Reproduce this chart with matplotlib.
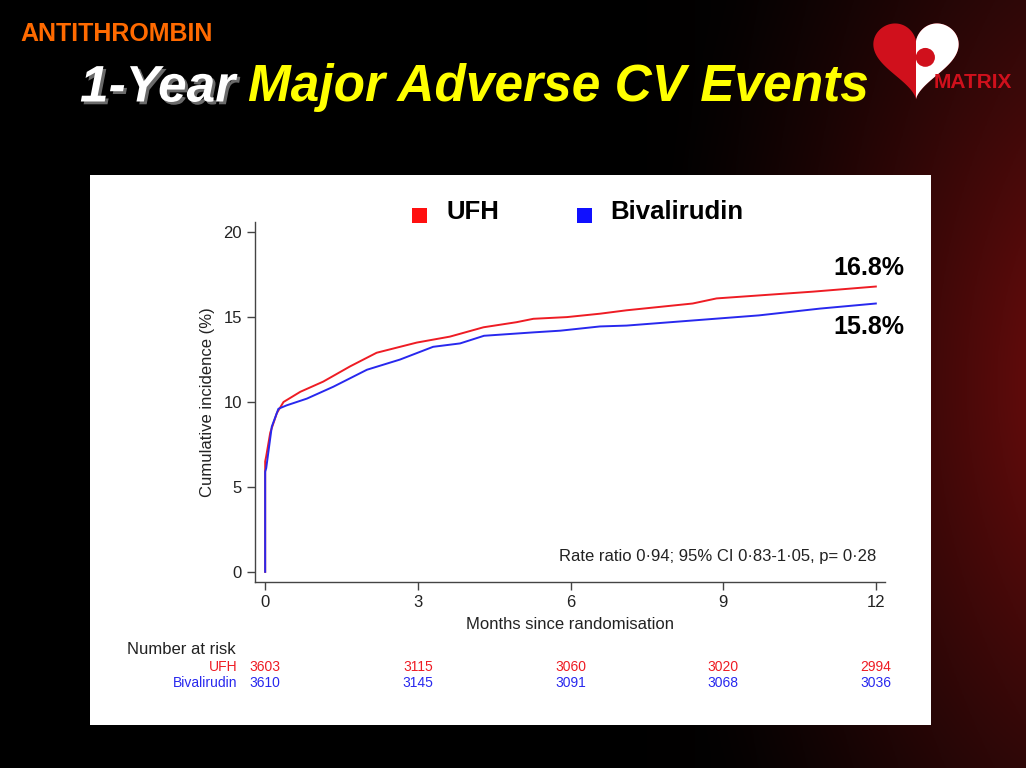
import numpy as np
import matplotlib.pyplot as plt
import matplotlib.patheffects as pe
from matplotlib.patches import Rectangle, Polygon, Circle

# Data
ufh_t = [0, 0.0, 0.02, 0.1, 0.23, 0.36, 0.69, 1.14, 1.67, 2.19, 2.98, 3.63, 4.29, 4.94,
         5.27, 5.93, 6.58, 7.1, 8.4, 8.87, 10.77, 12.0]
ufh_y = [0, 6.5, 6.8, 8.2, 9.35, 10.0, 10.6, 11.2, 12.1, 12.9, 13.5, 13.85, 14.4, 14.7,
         14.9, 15.0, 15.2, 15.4, 15.8, 16.1, 16.5, 16.8]
biv_t = [0, 0.0, 0.02, 0.13, 0.26, 0.42, 0.82, 1.34, 2.0, 2.65, 3.3, 3.83, 4.3, 5.27,
         5.8, 6.58, 7.1, 8.4, 9.7, 10.9, 12.0]
biv_y = [0, 5.9, 6.1, 8.55, 9.6, 9.8, 10.2, 10.9, 11.9, 12.5, 13.25, 13.45, 13.9, 14.1,
         14.2, 14.45, 14.5, 14.8, 15.1, 15.5, 15.8]

risk_months = [0, 3, 6, 9, 12]
ufh_risk = [3603, 3115, 3060, 3020, 2994]
biv_risk = [3610, 3145, 3091, 3068, 3036]

RED = '#ee1c24'
BLUE = '#2828ee'
SANS = ['Liberation Sans', 'DejaVu Sans']
NARROW = ['Liberation Sans Narrow', 'Liberation Sans', 'DejaVu Sans']

fig = plt.figure(figsize=(10.26, 7.68), dpi=100, facecolor='black')

# background: black slide with a dark red glow on the right + white panel
bg = fig.add_axes([0, 0, 1, 1], zorder=0)
bg.set_axis_off()
yy, xx = np.mgrid[0:1:300j, 0:1:400j]
d = np.sqrt(((xx - 1.08) / 0.45) ** 2 + ((yy - 0.5) / 0.95) ** 2)
glow = np.clip(1 - d, 0, 1) ** 1.4
img = np.zeros((300, 400, 3))
img[..., 0] = 0.42 * glow + 0.05 * np.clip((xx - 0.6) / 0.4, 0, 1)
img[..., 1] = 0.03 * glow + 0.02 * np.clip((xx - 0.6) / 0.4, 0, 1)
img[..., 2] = 0.03 * glow + 0.02 * np.clip((xx - 0.6) / 0.4, 0, 1)
bg.imshow(img, extent=[0, 1, 0, 1], aspect='auto', origin='lower')
bg.add_patch(Rectangle((90 / 1026, 1 - 725 / 768), 841 / 1026, 550 / 768,
                       facecolor='white', edgecolor='none'))
bg.set_xlim(0, 1)
bg.set_ylim(0, 1)

# slide titles
fig.text(20 / 1026, 1 - 34 / 768, 'ANTITHROMBIN', color='#ff6a00', fontsize=18,
         fontweight='bold', family=SANS, va='center', ha='left')
fig.text(80 / 1026, 1 - 88 / 768, '1-Year', color='white', fontsize=37,
         fontweight='bold', fontstyle='italic', family=SANS, va='center',
         path_effects=[pe.withSimplePatchShadow(offset=(2, -2), shadow_rgbFace='#777777', alpha=0.9)])
fig.text(248 / 1026, 1 - 88 / 768, 'Major Adverse CV Events', color='#ffff00',
         fontsize=37, fontweight='bold', fontstyle='italic', family=SANS, va='center')

# MATRIX logo (red/white puzzle heart)
lg = fig.add_axes([868 / 1026, 1 - 102 / 768, 96 / 1026, 84 / 768], zorder=2)
lg.set_axis_off()
tt = np.linspace(0, 2 * np.pi, 200)
hx = 16 * np.sin(tt) ** 3
hy = 13 * np.cos(tt) - 5 * np.cos(2 * tt) - 2 * np.cos(3 * tt) - np.cos(4 * tt)
heart = Polygon(np.column_stack([hx, hy]), closed=True, facecolor='#d0101c', edgecolor='none')
lg.add_patch(heart)
white = Rectangle((0, -20), 20, 40, facecolor='white', edgecolor='none')
lg.add_patch(white)
white.set_clip_path(heart)
knob = Circle((3.5, -1), 3.6, facecolor='#d0101c', edgecolor='none')
lg.add_patch(knob)
lg.set_xlim(-18, 18)
lg.set_ylim(-18, 14)
fig.text(1012 / 1026, 1 - 82 / 768, 'MATRIX', color='#d0101c', fontsize=15,
         fontweight='bold', family=NARROW, ha='right', va='center', zorder=3)

# plot
ax = fig.add_axes([255 / 1026, 1 - 582 / 768, 630 / 1026, 360 / 768], zorder=2)
ax.patch.set_alpha(0)
ax.plot(ufh_t, ufh_y, color=RED, lw=1.4)
ax.plot(biv_t, biv_y, color=BLUE, lw=1.4)
ax.set_xlim(-0.2, 12.18)
ax.set_ylim(-0.6, 20.6)
ax.set_xticks(risk_months)
ax.set_yticks([0, 5, 10, 15, 20])
for s in ['top', 'right']:
    ax.spines[s].set_visible(False)
for s in ['left', 'bottom']:
    ax.spines[s].set_color('#444444')
    ax.spines[s].set_linewidth(1.0)
ax.tick_params(direction='out', length=6, width=1, colors='#444444',
               labelcolor='#222222', labelsize=12)
for lab in ax.get_xticklabels() + ax.get_yticklabels():
    lab.set_family(SANS)
ax.set_xlabel('Months since randomisation', fontsize=12, family=SANS, color='#222222', labelpad=5)
ax.set_ylabel('Cumulative incidence (%)', fontsize=12, family=SANS, color='#222222', labelpad=6)

ax.text(12.57, 17.9, '16.8%', fontsize=18, fontweight='bold', family=SANS, ha='right', va='center')
ax.text(12.57, 14.4, '15.8%', fontsize=18, fontweight='bold', family=SANS, ha='right', va='center')
ax.text(12.0, 0.9, 'Rate ratio 0\u00b794; 95% CI 0\u00b783-1\u00b705, p= 0\u00b728', fontsize=12,
        family=SANS, ha='right', va='center', color='#222222')

# legend
fig.patches.append(Rectangle((412 / 1026, 1 - 223 / 768), 15 / 1026, 15 / 768,
                             transform=fig.transFigure, facecolor='#ff1010', zorder=3))
fig.text(447 / 1026, 1 - 212 / 768, 'UFH', fontsize=18.5, fontweight='bold', family=SANS,
         va='center', zorder=3)
fig.patches.append(Rectangle((577 / 1026, 1 - 223 / 768), 15 / 1026, 15 / 768,
                             transform=fig.transFigure, facecolor='#1010ff', zorder=3))
fig.text(610 / 1026, 1 - 212 / 768, 'Bivalirudin', fontsize=18.5, fontweight='bold', family=SANS,
         va='center', zorder=3)

# number at risk table
fig.text(127 / 1026, 1 - 649 / 768, 'Number at risk', fontsize=12, family=NARROW,
         va='center', color='#222222', zorder=3)
trans = ax.get_xaxis_transform()
ax.text(-0.55, (582 - 667) / 360, 'UFH', transform=trans, fontsize=10, family=NARROW,
        color=RED, ha='right', va='center', clip_on=False)
ax.text(-0.55, (582 - 683) / 360, 'Bivalirudin', transform=trans, fontsize=10, family=NARROW,
        color=BLUE, ha='right', va='center', clip_on=False)
for m, a, b in zip(risk_months, ufh_risk, biv_risk):
    ax.text(m, (582 - 667) / 360, str(a), transform=trans, fontsize=10, family=NARROW,
            color=RED, ha='center', va='center', clip_on=False)
    ax.text(m, (582 - 683) / 360, str(b), transform=trans, fontsize=10, family=NARROW,
            color=BLUE, ha='center', va='center', clip_on=False)

fig.savefig('out.png', dpi=100, facecolor='black')
